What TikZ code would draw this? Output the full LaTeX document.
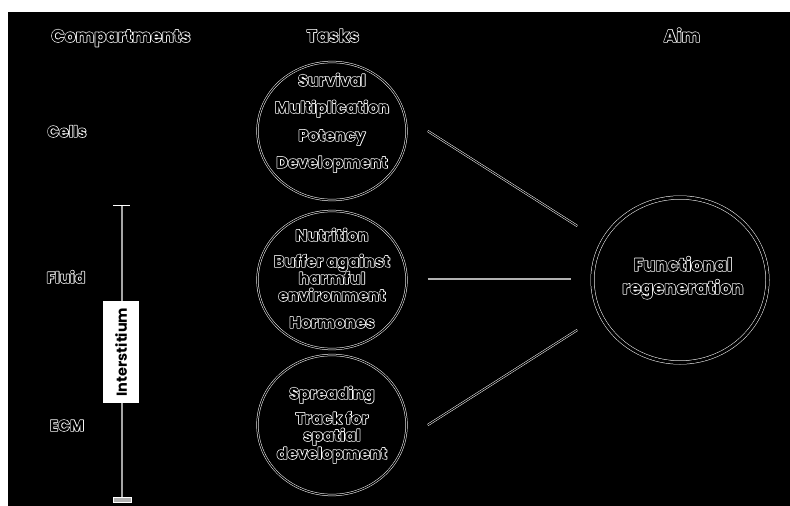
\documentclass[tikz,border=0pt]{standalone}
\usepackage{fontspec}
\setmainfont{Poppins}
\usetikzlibrary{shapes.geometric,calc}
\newcommand\halo[1]{\rlap{\special{pdf:literal direct 1 1 1 RG 1.4 w 1 j 1 Tr}#1\special{pdf:literal direct 0 Tr}}#1}
\begin{document}
\begin{tikzpicture}[x=1pt,y=-1pt,
  lbl/.style={font=\bfseries\fontsize{16}{18}\selectfont, inner sep=0pt, text=black, text height=11pt, text depth=3pt},
  hdr/.style={lbl, font=\bfseries\fontsize{17.5}{19}\selectfont},
  cmp/.style={lbl, font=\bfseries\fontsize{15.5}{17}\selectfont},
  aimtxt/.style={lbl, font=\bfseries\fontsize{18}{20}\selectfont},
  taskell/.style={ellipse, draw=white, double=black, line width=0.5pt, double distance=1.2pt, minimum width=149pt, minimum height=138pt, inner sep=0pt},
  aimell/.style={ellipse, draw=white, double=black, line width=0.5pt, double distance=3pt, minimum width=175pt, minimum height=165pt, inner sep=0pt},
  conn/.style={draw=white, double=black, line width=0.5pt, double distance=1.1pt},
  barhalo/.style={draw=white, line width=2.6pt},
  barcore/.style={draw=gray!70, line width=1.4pt},
  interbox/.style={fill=white, rotate=90, minimum width=102pt, minimum height=36pt, inner sep=0pt, font=\bfseries\fontsize{14.5}{16}\selectfont},
]
\fill[white] (0,0) rectangle (790,506);
\fill[black] (8,12) rectangle (790,506);
\useasboundingbox (0,0) rectangle (790,506);

% headers
\node[hdr] (hcomp) at (121,38) {\halo{Compartments}};
\node[hdr] (htask) at (333,38) {\halo{Tasks}};
\node[hdr] (haim) at (682,38) {\halo{Aim}};

% compartments
\node[cmp] (cells) at (67,133) {\halo{Cells}};
\node[cmp] (fluid) at (66,279) {\halo{Fluid}};
\node[cmp] (ecm) at (67,427) {\halo{ECM}};

% interstitium bar
\coordinate (bartop) at (122,205);
\coordinate (barbot) at (122,498);
\draw[barhalo] (bartop) -- (barbot);
\draw[barcore] (bartop) -- (barbot);
\draw[white, line width=0.8pt] ($(bartop)+(-9,0)$) -- ($(bartop)+(8,0)$);
\draw[draw=white, fill=gray!60, line width=0.6pt] ($(barbot)+(-9,-1)$) rectangle ($(barbot)+(9,4)$);
\node[interbox] (inter) at (121,352) {Interstitium};

% task ellipses
\node[taskell] (c1) at (332,131) {};
\node[taskell] (c2) at (332,280) {};
\node[taskell, minimum height=140pt] (c3) at (332,425) {};

\node[lbl] (t1a) at (332,82) {\halo{Survival}};
\node[lbl] (t1b) at (332,109) {\halo{Multiplication}};
\node[lbl] (t1c) at (332,137) {\halo{Potency}};
\node[lbl] (t1d) at (332,164) {\halo{Development}};

\node[lbl] (t2a) at (332,237) {\halo{Nutrition}};
\node[lbl] (t2b) at (332,263) {\halo{Buffer against}};
\node[lbl] (t2c) at (332,280) {\halo{harmful}};
\node[lbl] (t2d) at (332,297) {\halo{environment}};
\node[lbl] (t2e) at (332,324) {\halo{Hormones}};

\node[lbl] (t3a) at (332,395) {\halo{Spreading}};
\node[lbl] (t3b) at (332,420) {\halo{Track for}};
\node[lbl] (t3c) at (332,437) {\halo{spatial}};
\node[lbl] (t3d) at (332,455) {\halo{development}};

% aim
\node[aimell] (aim) at (680,280) {};
\node[aimtxt] (aim1) at (683,267) {\halo{Functional}};
\node[aimtxt] (aim2) at (683,290) {\halo{regeneration}};

% connectors
\draw[conn] ($(c1.east)+(21,0)$) -- ($(aim.west)+(-15,-54)$);
\draw[conn, double=gray!60] ($(c2.east)+(21,-1)$) -- ($(aim.west)+(-21,-1)$);
\draw[conn] ($(c3.east)+(21,0)$) -- ($(aim.west)+(-15,50)$);
\end{tikzpicture}
\end{document}
